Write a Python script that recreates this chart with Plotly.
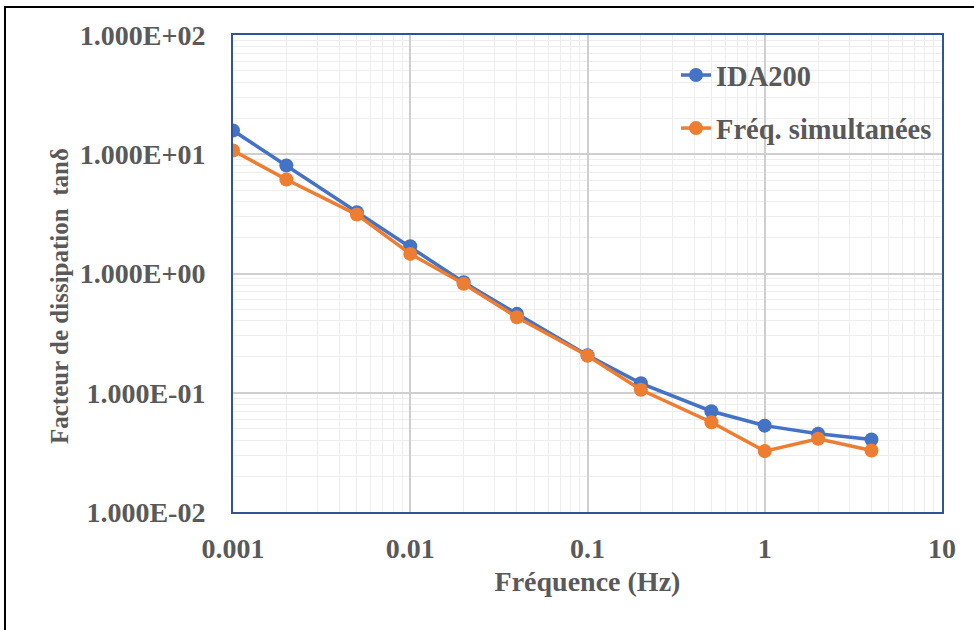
import plotly.graph_objects as go

freq = [0.001, 0.002, 0.005, 0.01, 0.02, 0.04, 0.1, 0.2, 0.5, 1, 2, 4]
ida200 = [15.8, 8.05, 3.27, 1.69, 0.845, 0.459, 0.206, 0.120, 0.070, 0.053, 0.0453, 0.0406]
freq_sim = [10.75, 6.14, 3.12, 1.46, 0.82, 0.43, 0.204, 0.106, 0.0566, 0.0324, 0.0411, 0.0328]

x_tickvals = [0.001, 0.01, 0.1, 1, 10]
x_ticktext = ["0.001", "0.01", "0.1", "1", "10"]
y_tickvals = [0.01, 0.1, 1, 10, 100]
y_ticktext = ["1.000E-02", "1.000E-01", "1.000E+00", "1.000E+01", "1.000E+02"]

FONT = "Liberation Serif"
GREY = "#595959"

fig = go.Figure()
fig.add_trace(go.Scatter(x=freq, y=ida200, name="<b>IDA200</b>", mode="lines+markers",
                         line=dict(color="#4472C4", width=3.5),
                         marker=dict(size=14, color="#4472C4"), legendgroup="a"))
fig.add_trace(go.Scatter(x=freq, y=freq_sim, name="<b>Fréq. simultanées</b>", mode="lines+markers",
                         line=dict(color="#ED7D31", width=3.5),
                         marker=dict(size=14, color="#ED7D31"), legendgroup="b"))

L, R, T, B = 233, 32, 35, 118
W, H = 974, 630
pw, ph = W - L - R, H - T - B

fig.update_layout(
    width=W, height=H,
    margin=dict(l=L, r=R, t=T, b=B),
    paper_bgcolor="white", plot_bgcolor="white",
    font=dict(family=FONT, color=GREY, size=28),
    showlegend=True,
    legend=dict(x=(676 - L) / pw, y=(T - 50) / ph + 1, xanchor="left", yanchor="top",
                bgcolor="rgba(0,0,0,0)", font=dict(size=28.5, family=FONT, color=GREY),
                tracegroupgap=13, traceorder="grouped"),
    xaxis=dict(type="log", range=[-3, 1], tickmode="array",
               tickvals=x_tickvals, ticktext=["<b>%s</b>" % t for t in x_ticktext],
               tickfont=dict(size=28, family=FONT, color=GREY),
               showgrid=True, gridcolor="#cfcfcf", gridwidth=1.5,
               minor=dict(dtick="D1", showgrid=True, gridcolor="#ededed", gridwidth=1.3, ticks=""),
               showline=True, linecolor="#2F5597", linewidth=2, mirror=True,
               ticks="", ticklabelstandoff=10,
               title=dict(text="<b>Fréquence (Hz)</b>", font=dict(size=28, family=FONT, color=GREY),
                          standoff=9),
               zeroline=False),
    yaxis=dict(type="log", range=[-2, 2], tickmode="array",
               tickvals=y_tickvals, ticktext=["<b>%s</b>" % t for t in y_ticktext],
               tickfont=dict(size=28, family=FONT, color=GREY),
               showgrid=True, gridcolor="#cfcfcf", gridwidth=1.5,
               minor=dict(dtick="D1", showgrid=True, gridcolor="#ededed", gridwidth=1.3, ticks=""),
               showline=True, linecolor="#2F5597", linewidth=2, mirror=True,
               ticks="", ticklabelstandoff=20,
               zeroline=False),
)

# y-axis title placed as annotation
fig.add_annotation(text="<b>Facteur de dissipation  tanδ</b>", textangle=-90,
                   xref="paper", yref="paper", x=(59 - L) / pw, y=1 - (296 - T) / ph,
                   xanchor="center", yanchor="middle",
                   showarrow=False, font=dict(size=25, family=FONT, color=GREY))

# outer frame (cropped border)
fig.add_shape(type="rect", xref="paper", yref="paper",
              x0=(5 - L) / pw, x1=(990 - L) / pw, y0=1 - (650 - T) / ph, y1=1 - (7 - T) / ph,
              line=dict(color="black", width=2), fillcolor="rgba(0,0,0,0)", layer="above")

fig.write_html("out.html")
